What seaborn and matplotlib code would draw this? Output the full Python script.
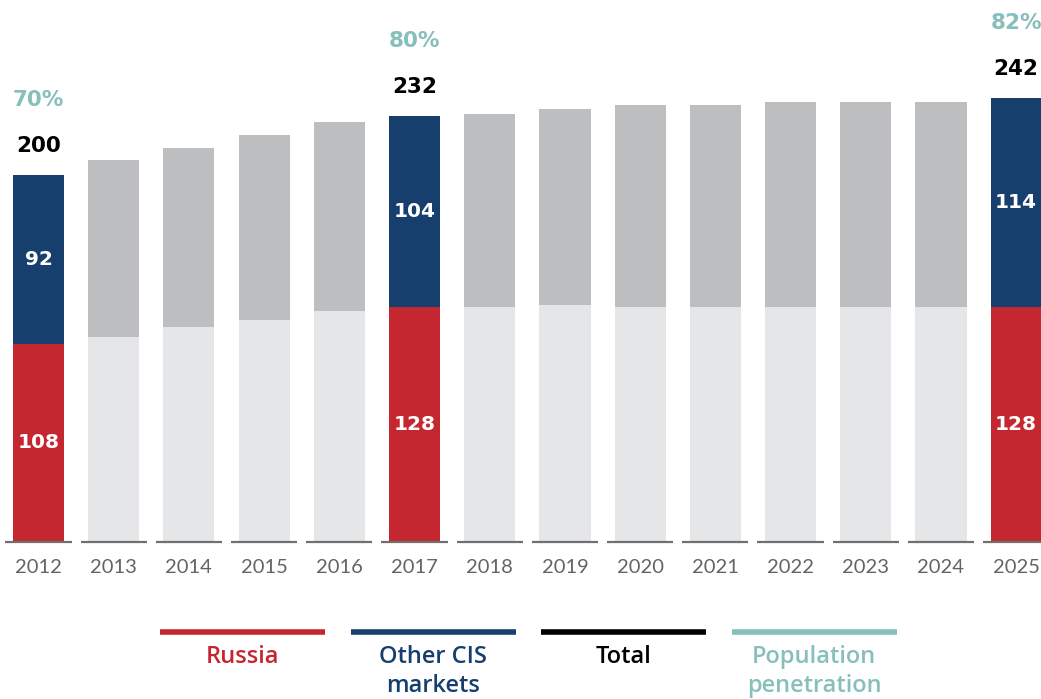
import numpy as np
import pandas as pd
import matplotlib
matplotlib.use("Agg")
import matplotlib.pyplot as plt
from matplotlib.lines import Line2D
import seaborn as sns

# Subscribers (millions) per year
years = [2012, 2013, 2014, 2015, 2016, 2017, 2018, 2019, 2020, 2021, 2022, 2023, 2024, 2025]
russia = [108, 112, 117, 121, 126, 128, 128, 129, 128, 128, 128, 128, 128, 128]
totals = [200, 208, 215, 222, 229, 232, 233, 236, 238, 238, 240, 240, 240, 242]
highlight_years = [2012, 2017, 2025]
penetration = [70, 80, 82]  # % for the highlighted years

RED = "#C4272F"
NAVY = "#163F6E"
TEAL = "#86BFBC"
GRAY_TOP = "#BDBEC0"
GRAY_BOT = "#E5E6E8"
TICK = "#646464"

sns.set_theme(style="white")
plt.rcParams["font.family"] = ["DejaVu Sans"]

df = pd.DataFrame({"year": [str(y) for y in years], "russia": russia, "total": totals})
df["other"] = df["total"] - df["russia"]
is_hl = [y in highlight_years for y in years]

fig = plt.figure(figsize=(10.41, 6.99), dpi=100)
ax = fig.add_axes([0, 157 / 699, 1, 542 / 699])

top_colors = [NAVY if h else GRAY_TOP for h in is_hl]
bot_colors = [RED if h else GRAY_BOT for h in is_hl]

sns.barplot(data=df, x="year", y="total", hue="year", palette=top_colors,
            legend=False, width=0.68, saturation=1, ax=ax, linewidth=0)
sns.barplot(data=df, x="year", y="russia", hue="year", palette=bot_colors,
            legend=False, width=0.68, saturation=1, ax=ax, linewidth=0)

ax.set_xlim(-0.512, 13.33)
ax.set_ylim(0, 295.4)
ax.set_xlabel("")
ax.set_ylabel("")
ax.set_yticks([])
for s in ax.spines.values():
    s.set_visible(False)
ax.set_xticks(range(len(years)))
ax.set_xticklabels([str(y) for y in years], fontfamily="Lato", fontsize=14.5,
                   color=TICK, fontweight="normal")
ax.tick_params(axis="x", length=0, pad=12)

# baseline segments under each bar
for i in range(len(years)):
    ax.plot([i - 0.44, i + 0.44], [0, 0], color="#707070", lw=1.6,
            solid_capstyle="butt", clip_on=False, zorder=5)

# value labels on highlighted bars
pen_iter = iter(penetration)
for i, (y, r, t, o, h) in enumerate(zip(years, df["russia"], df["total"], df["other"], is_hl)):
    if not h:
        continue
    p = next(pen_iter)
    ax.text(i, r / 2, f"{r}", ha="center", va="center", color="white",
            fontsize=14.5, fontweight="bold")
    ax.text(i, r + o / 2, f"{o}", ha="center", va="center", color="white",
            fontsize=14.5, fontweight="bold")
    ax.text(i, t + 16, f"{t}", ha="center", va="center", color="black",
            fontsize=15.5, fontweight="bold")
    ax.text(i, t + 41, f"{p}%", ha="center", va="center", color=TEAL,
            fontsize=15.5, fontweight="bold")

# legend: coloured rules with captions beneath
legend_items = [("Russia", RED), ("Other CIS\nmarkets", NAVY),
                ("Total", "black"), ("Population\npenetration", TEAL)]
x0, w, gap = 160, 165, 25.5
for k, (label, col) in enumerate(legend_items):
    left = x0 + k * (w + gap)
    yl = 1 - 632 / 699
    fig.add_artist(Line2D([left / 1041, (left + w) / 1041], [yl, yl],
                          color=col, lw=4, solid_capstyle="butt"))
    fig.text((left + w / 2) / 1041, 1 - 645 / 699, label, ha="center", va="top",
             color=col, fontsize=17, fontfamily="Open Sans", fontweight="semibold",
             linespacing=1.25)

fig.savefig("out.png", dpi=100)
